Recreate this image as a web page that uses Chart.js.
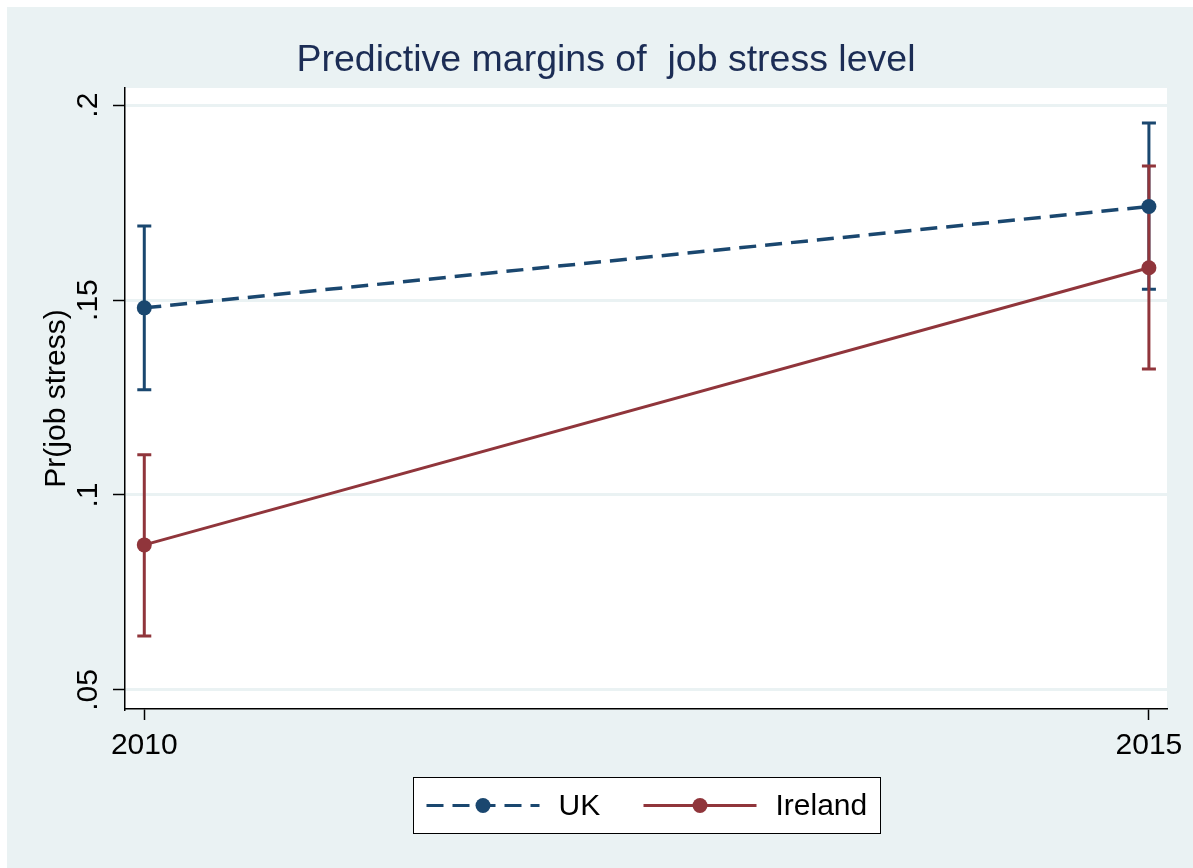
<!DOCTYPE html>
<html>
<head>
<meta charset="utf-8">
<title>Predictive margins of job stress level</title>
<script src="https://cdn.jsdelivr.net/npm/chart.js@4.4.1/dist/chart.umd.min.js"></script>
<style>
  html, body { margin: 0; padding: 0; background: #eaf2f3; }
  canvas { display: block; }
</style>
</head>
<body>
<canvas id="margins" width="1193" height="868"></canvas>
<script>
// margins by survey year
const years = [2010, 2015];
const xTickLabels = ['2010', '2015'];
const ukMargin = [0.148, 0.174];
const ukLower = [0.127, 0.1528];
const ukUpper = [0.169, 0.1954];
const ieMargin = [0.0872, 0.1583];
const ieLower = [0.0638, 0.1323];
const ieUpper = [0.1103, 0.1844];
const yTicks = [0.05, 0.1, 0.15, 0.2];
const yTickLabels = ['.05', '.1', '.15', '.2'];

const navy = '#1a476f';
const maroon = '#90353b';
const bg = '#eaf2f3';
const fontFamily = '"Liberation Sans", Arial, sans-serif';

const ciBounds = [
    { lower: ukLower, upper: ukUpper },
    { lower: ieLower, upper: ieUpper }
];

// graph region background, white plot area
const backdrop = {
    id: 'backdrop',
    beforeDraw(chart) {
        const { ctx, chartArea: a } = chart;
        ctx.save();
        ctx.fillStyle = '#fff';
        ctx.fillRect(0, 0, chart.width, chart.height);
        ctx.fillStyle = bg;
        ctx.fillRect(7, 7, chart.width - 7, chart.height - 7);
        ctx.fillStyle = '#fff';
        ctx.fillRect(a.left, a.top, a.right - a.left, a.bottom - a.top);
        ctx.restore();
    }
};

// capped confidence intervals, drawn under the lines
const errorBars = {
    id: 'errorBars',
    beforeDatasetsDraw(chart) {
        const { ctx, scales: { x, y } } = chart;
        ctx.save();
        ctx.lineWidth = 3;
        chart.data.datasets.forEach((ds, i) => {
            ctx.strokeStyle = ds.borderColor;
            years.forEach((yr, j) => {
                const px = x.getPixelForValue(yr);
                const lo = y.getPixelForValue(ciBounds[i].lower[j]);
                const hi = y.getPixelForValue(ciBounds[i].upper[j]);
                ctx.beginPath();
                ctx.moveTo(px, lo);
                ctx.lineTo(px, hi);
                ctx.moveTo(px - 7, lo);
                ctx.lineTo(px + 7, lo);
                ctx.moveTo(px - 7, hi);
                ctx.lineTo(px + 7, hi);
                ctx.stroke();
            });
        });
        ctx.restore();
    }
};

// boxed legend below the x axis
const boxLegend = {
    id: 'boxLegend',
    afterDraw(chart) {
        const { ctx, chartArea: a } = chart;
        const w = 467, h = 56;
        const left = Math.round((a.left + a.right) / 2 - w / 2) + 0.5;
        const top = 777.5;
        const mid = top + h / 2;
        ctx.save();
        ctx.fillStyle = '#fff';
        ctx.fillRect(left, top, w, h);
        ctx.strokeStyle = '#000';
        ctx.lineWidth = 1;
        ctx.strokeRect(left, top, w, h);

        const slots = [13, 230];
        chart.data.datasets.forEach((ds, i) => {
            const x0 = left + slots[i];
            const x1 = x0 + 113;
            ctx.strokeStyle = ds.borderColor;
            ctx.lineWidth = 3;
            ctx.setLineDash(ds.borderDash || []);
            ctx.beginPath();
            ctx.moveTo(x0, mid);
            ctx.lineTo(x1, mid);
            ctx.stroke();
            ctx.setLineDash([]);
            ctx.fillStyle = ds.borderColor;
            ctx.beginPath();
            ctx.arc((x0 + x1) / 2, mid, 7.5, 0, Math.PI * 2);
            ctx.fill();
            ctx.fillStyle = '#000';
            ctx.font = '30px ' + fontFamily;
            ctx.textBaseline = 'middle';
            ctx.textAlign = 'left';
            ctx.fillText(ds.label, x1 + 19, mid + 1);
        });
        ctx.restore();
    }
};

const toPoints = vals => years.map((yr, j) => ({ x: yr, y: vals[j] }));

new Chart(document.getElementById('margins'), {
    type: 'line',
    data: {
        datasets: [
            {
                label: 'UK',
                data: toPoints(ukMargin),
                borderColor: navy,
                backgroundColor: navy,
                borderWidth: 3.5,
                borderDash: [17, 9],
                pointRadius: 7.5,
                pointBorderWidth: 0,
                pointBackgroundColor: navy
            },
            {
                label: 'Ireland',
                data: toPoints(ieMargin),
                borderColor: maroon,
                backgroundColor: maroon,
                borderWidth: 3,
                pointRadius: 7.5,
                pointBorderWidth: 0,
                pointBackgroundColor: maroon
            }
        ]
    },
    options: {
        responsive: false,
        devicePixelRatio: 1,
        animation: false,
        layout: { padding: { left: 45, right: 26, top: 0, bottom: 0 } },
        plugins: {
            legend: { display: false },
            tooltip: { enabled: false },
            title: {
                display: true,
                text: 'Predictive margins of  job stress level',
                color: '#1c2d55',
                font: { family: fontFamily, size: 37.5, weight: 'normal' },
                padding: { top: 38, bottom: 5 }
            }
        },
        scales: {
            x: {
                type: 'linear',
                min: 2009.904,
                max: 2015.09,
                afterBuildTicks: s => { s.ticks = years.map(v => ({ value: v })); },
                afterFit: s => { s.height = 159; },
                ticks: {
                    autoSkip: false,
                    maxRotation: 0,
                    color: '#000',
                    padding: 8,
                    font: { family: fontFamily, size: 30 },
                    callback: (v, i) => xTickLabels[i]
                },
                grid: {
                    drawOnChartArea: false,
                    tickColor: '#000',
                    tickWidth: 1.5,
                    tickLength: 11
                },
                border: { color: '#000', width: 1.5 }
            },
            y: {
                type: 'linear',
                min: 0.0451,
                max: 0.2044,
                afterBuildTicks: s => { s.ticks = yTicks.map(v => ({ value: v })); },
                afterFit: s => { s.width = 80; },
                ticks: {
                    minRotation: 90,
                    maxRotation: 90,
                    crossAlign: 'center',
                    padding: 3,
                    color: '#000',
                    font: { family: fontFamily, size: 30 },
                    callback: (v, i) => yTickLabels[i]
                },
                grid: {
                    color: bg,
                    lineWidth: 3,
                    tickColor: '#000',
                    tickWidth: 1.5,
                    tickLength: 12
                },
                border: { color: '#000', width: 1.5 },
                title: {
                    display: true,
                    text: 'Pr(job stress)',
                    color: '#000',
                    font: { family: fontFamily, size: 30, lineHeight: 0.77 },
                    padding: 0
                }
            }
        }
    },
    plugins: [backdrop, errorBars, boxLegend]
});
</script>
</body>
</html>
